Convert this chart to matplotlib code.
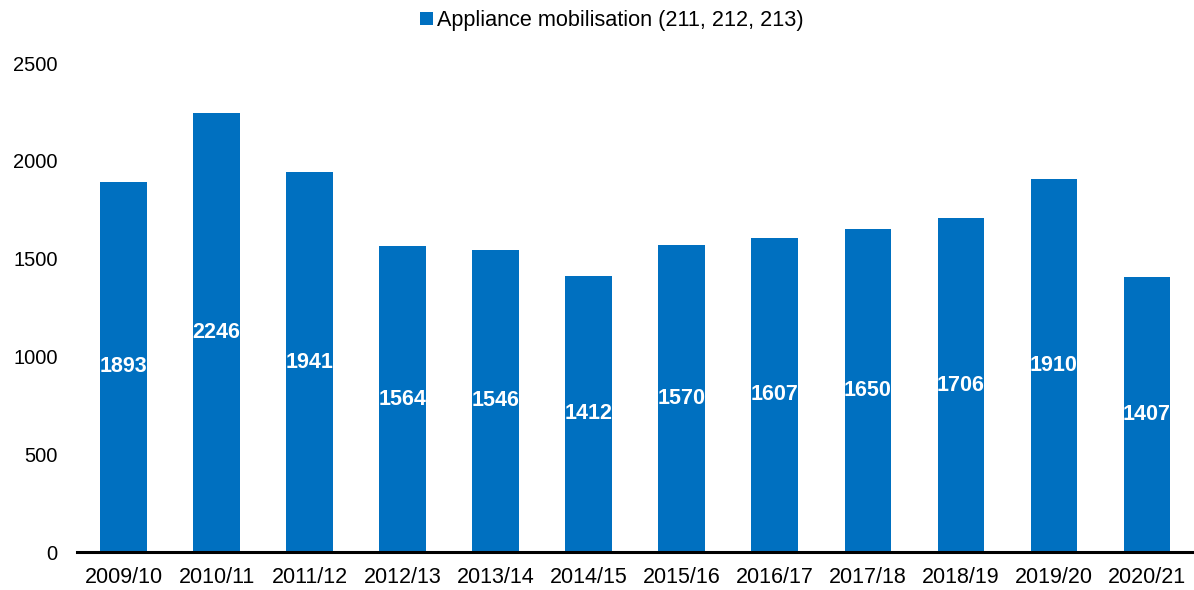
import matplotlib
matplotlib.use("Agg")
import matplotlib.pyplot as plt

categories = ["2009/10", "2010/11", "2011/12", "2012/13", "2013/14", "2014/15",
              "2015/16", "2016/17", "2017/18", "2018/19", "2019/20", "2020/21"]
values = [1893, 2246, 1941, 1564, 1546, 1412, 1570, 1607, 1650, 1706, 1910, 1407]
series_name = "Appliance mobilisation (211, 212, 213)"
yticks = [0, 500, 1000, 1500, 2000, 2500]

plt.rcParams['font.family'] = ['Liberation Sans', 'DejaVu Sans']
color = "#0070C0"

fig = plt.figure(figsize=(11.94, 5.90), dpi=100)
ax = fig.add_axes([0.0645, 0.0644, 0.935, 0.8286])

x = list(range(len(categories)))
bars = ax.bar(x, values, width=0.5, color=color, label=series_name)
for xi, v in zip(x, values):
    ax.text(xi, v / 2, str(v), ha='center', va='center', color='white',
            fontsize=15.5, fontweight='bold')

ax.set_xlim(-0.5, len(categories) - 0.5)
ax.set_ylim(0, 2500)
ax.set_yticks(yticks)
ax.set_xticks(x)
ax.set_xticklabels(categories)
ax.tick_params(axis='x', length=0, labelsize=15.5, colors='black', pad=11)
ax.tick_params(axis='y', length=0, labelsize=14.5, colors='black', pad=14)
for s in ['top', 'right', 'left']:
    ax.spines[s].set_visible(False)
ax.spines['bottom'].set_linewidth(2.2)
ax.spines['bottom'].set_color('black')

fig.legend(handles=[bars], labels=[series_name], loc='center',
           bbox_to_anchor=(0.5126, 0.965), frameon=False, fontsize=15.6,
           handlelength=0.6, handleheight=0.6, handletextpad=0.2)

fig.savefig("out.png", dpi=100)
